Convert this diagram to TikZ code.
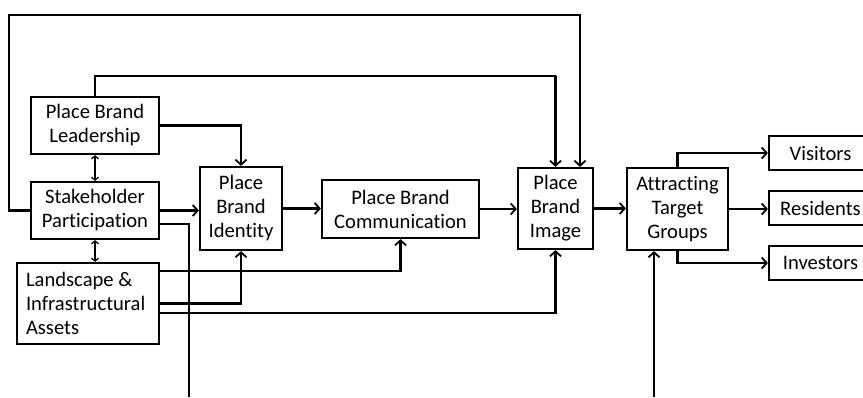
\documentclass[tikz,border=0pt]{standalone}
\usepackage{fontspec}
\setmainfont{Carlito}[Ligatures={NoCommon,NoRare}]
\usetikzlibrary{arrows.meta}
\begin{document}
\begin{tikzpicture}[x=1pt,y=-1pt,
  box/.style={draw,line width=2.2pt,inner sep=0pt,align=center,font=\fontsize{20.6}{24}\selectfont},
  conn/.style={line width=2.2pt},
  arr/.style={conn,-{Straight Barb[length=5pt,width=11pt,line width=1.8pt]}},
  dbl/.style={line width=1.2pt,{Straight Barb[length=3pt,width=7pt]}-{Straight Barb[length=3pt,width=7pt]}}]
\useasboundingbox (0,0) rectangle (863,397);
\clip (0,0) rectangle (863,397);
\node[box,minimum width=128pt,minimum height=57pt] (lead) at (95,125.5) {Place Brand\\Leadership};
\node[box,minimum width=128pt,minimum height=57pt] (stake) at (95,210.5) {Stakeholder\\Participation};
\node[box,minimum height=81pt,text width=124pt,inner xsep=9pt,align=flush left] (land) at (88,303.5) {Landscape \&\\Infrastructural\\Assets};
\node[box,minimum width=82pt,minimum height=83pt] (ident) at (241,208.5) {Place\\Brand\\Identity};
\node[box,minimum width=157pt,minimum height=58pt] (comm) at (400.5,209) {Place Brand\\Communication};
\node[box,minimum width=75pt,minimum height=81pt] (image) at (555.5,208.5) {Place\\Brand\\Image};
\node[box,minimum width=101pt,minimum height=82pt] (attr) at (677.5,209) {Attracting\\Target\\Groups};
\node[box,minimum width=103pt,minimum height=34pt] (vis) at (820.5,153) {Visitors};
\node[box,minimum width=103pt,minimum height=34pt] (res) at (820.5,208) {Residents};
\node[box,minimum width=103pt,minimum height=34pt] (inv) at (820.5,263) {Investors};
\coordinate (t1) at (580,15);
\coordinate (t2) at (556,76);
\coordinate (b1) at (189,397);
\coordinate (b2) at (654,397);
% outer loop
\draw[arr] (stake.west) -- ++(-21,0) |- (t1) -- (t1 |- image.north);
% leadership to image
\draw[arr] (lead.north) |- (t2) -| (image.north);
% leadership to identity
\draw[arr] (lead.east) -| (ident.north);
% double arrows
\draw[dbl] (lead.south) -- (stake.north);
\draw[dbl] (stake.south) -- (stake.south |- land.north);
% main chain
\draw[arr] (stake.east) -- (stake.east -| ident.west);
\draw[conn] ([yshift=-13.5pt]stake.east) -| (b1);
\draw[arr] (ident.east) -- (ident.east -| comm.west);
\draw[arr] (comm.east) -- (comm.east -| image.west);
\draw[arr] (image.east) -- (image.east -| attr.west);
% landscape lines
\draw[arr] ([yshift=32.5pt]land.east) -| (comm.south);
\draw[arr] (land.east) -| (ident.south);
\draw[arr] ([yshift=-9.5pt]land.east) -| (image.south);
% target groups
\draw[arr] (attr.north) |- (vis.west);
\draw[arr] (attr.east) -- (attr.east -| res.west);
\draw[arr] (attr.south) |- (inv.west);
\draw[arr] (b2) -- (b2 |- attr.south);
\end{tikzpicture}
\end{document}
